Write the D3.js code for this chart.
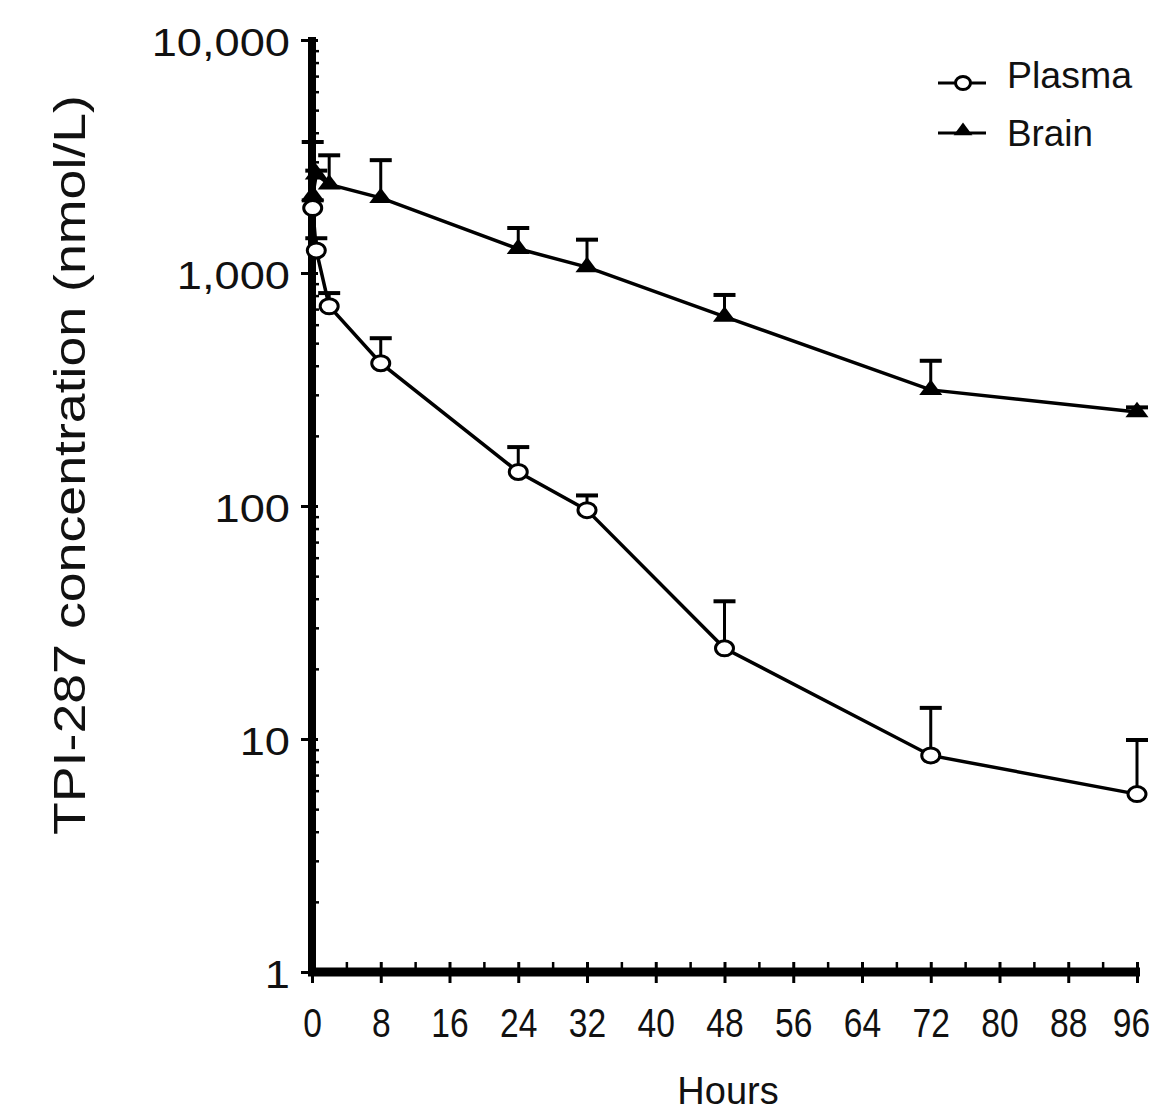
<!DOCTYPE html>
<html>
<head>
<meta charset="utf-8">
<script src="https://cdn.jsdelivr.net/npm/d3@7"></script>
<style>
  body { margin: 0; background: #fff; }
  text { font-family: "Liberation Sans", Arial, sans-serif; fill: #111; }
</style>
</head>
<body>
<svg id="chart" width="1159" height="1112"></svg>
<script>
// values (mean and upper SD)
const plasmaHours = [0.083, 0.5, 2, 8, 24, 32, 48, 72, 96];
const plasmaMean = [1900, 1250, 720, 410, 140, 96, 24.5, 8.5, 5.8];
const plasmaSD = [150, 160, 100, 115, 39, 15, 14.5, 5.1, 4.1];

const brainHours = [0.083, 0.5, 2, 8, 24, 32, 48, 72, 96];
const brainMean = [2150, 2650, 2400, 2100, 1270, 1060, 650, 315, 253];
const brainSD = [1500, 100, 800, 950, 290, 330, 155, 105, 12];

const xTicks = [0, 8, 16, 24, 32, 40, 48, 56, 64, 72, 80, 88, 96];
const yTicks = [1, 10, 100, 1000, 10000];

const svg = d3.select("#chart");

const x = d3.scaleLinear().domain([0, 96]).range([312, 1137]);
const y = d3.scaleLog().domain([1, 10000]).range([972, 40]);

// rough Arial advance widths, used to stretch labels like the scan
function textW(s, fs, k) {
  return [...s].reduce((a, c) => a + (c === ',' ? 0.278 : 0.556), 0) * fs * k;
}

const plasma = plasmaHours.map((h, i) => ({ h, v: plasmaMean[i], sd: plasmaSD[i] }));
const brain = brainHours.map((h, i) => ({ h, v: brainMean[i], sd: brainSD[i] }));

// y minor ticks
const minor = [];
for (let d = 1; d < 10000; d *= 10) for (let m = 2; m <= 9; m++) minor.push(d * m);
svg.append("g")
  .attr("transform", "translate(312,0)")
  .call(d3.axisLeft(y).tickValues(minor).tickSize(-7).tickFormat(""))
  .call(g => g.select(".domain").remove())
  .selectAll("line").attr("stroke", "#000").attr("stroke-width", 2.5);

// y axis
const yAx = svg.append("g")
  .attr("transform", "translate(312,0)")
  .call(d3.axisLeft(y).tickValues(yTicks).tickSize(11).tickSizeOuter(0).tickFormat(d3.format(",")));
yAx.select(".domain").attr("stroke", "#000").attr("stroke-width", 8)
  .attr("d", `M0,${y(10000) - 3}V${y(1) + 4}`);
yAx.selectAll(".tick line").attr("stroke", "#000").attr("stroke-width", 3).attr("x2", -11).attr("x1", 6);
yAx.selectAll(".tick text")
  .attr("x", -22).attr("dy", 15)
  .style("font-size", "39px")
  .attr("fill", "#111")
  .attr("textLength", d => textW(d3.format(",")(d), 39, 1.16))
  .attr("lengthAdjust", "spacingAndGlyphs");

// x minor ticks every 4 h
svg.append("g")
  .attr("transform", "translate(0,972)")
  .call(d3.axisBottom(x).tickValues(d3.range(4, 96, 8)).tickSize(-10).tickFormat(""))
  .call(g => g.select(".domain").remove())
  .selectAll("line").attr("stroke", "#000").attr("stroke-width", 2.5);

// x axis
const xAx = svg.append("g")
  .attr("transform", "translate(0,972)")
  .call(d3.axisBottom(x).tickValues(xTicks).tickSize(11).tickSizeOuter(0));
xAx.select(".domain").attr("stroke", "#000").attr("stroke-width", 9)
  .attr("d", `M${x(0) - 4},0H${x(96) + 3}`);
xAx.selectAll(".tick line").attr("stroke", "#000").attr("stroke-width", 3).attr("y1", -10).attr("y2", 11);
xAx.selectAll(".tick text")
  .attr("y", 65).attr("dy", null)
  .attr("x", d => d === 96 ? -6 : 0)
  .style("font-size", "41px")
  .attr("fill", "#111")
  .attr("textLength", d => textW(String(d), 41, 0.82))
  .attr("lengthAdjust", "spacingAndGlyphs");

// axis titles
svg.append("text")
  .attr("transform", "translate(85,465) rotate(-90)")
  .attr("text-anchor", "middle")
  .style("font-size", "45px")
  .attr("textLength", 740)
  .attr("lengthAdjust", "spacingAndGlyphs")
  .text("TPI-287 concentration (nmol/L)");

svg.append("text")
  .attr("x", 728).attr("y", 1104)
  .attr("text-anchor", "middle")
  .style("font-size", "38px")
  .text("Hours");

const line = d3.line().x(d => x(d.h)).y(d => y(d.v));

function drawErr(data) {
  const g = svg.append("g").attr("stroke", "#000");
  g.selectAll(".v").data(data).enter().append("line")
    .attr("x1", d => x(d.h)).attr("x2", d => x(d.h))
    .attr("y1", d => y(d.v)).attr("y2", d => y(d.v + d.sd))
    .attr("stroke-width", 3);
  g.selectAll(".c").data(data).enter().append("line")
    .attr("x1", d => x(d.h) - 11).attr("x2", d => x(d.h) + 11)
    .attr("y1", d => y(d.v + d.sd)).attr("y2", d => y(d.v + d.sd))
    .attr("stroke-width", 4);
}

drawErr(brain);
drawErr(plasma);

svg.append("path").datum(brain).attr("d", line)
  .attr("fill", "none").attr("stroke", "#000").attr("stroke-width", 3.5);
svg.append("path").datum(plasma).attr("d", line)
  .attr("fill", "none").attr("stroke", "#000").attr("stroke-width", 3.5);

const tri = d3.symbol().type(d3.symbolTriangle).size(190);

svg.append("g").selectAll("path").data(brain).enter().append("path")
  .attr("d", tri)
  .attr("transform", d => `translate(${x(d.h)},${y(d.v)}) scale(1.1,0.85)`)
  .attr("fill", "#000");

svg.append("g").selectAll("ellipse").data(plasma).enter().append("ellipse")
  .attr("cx", d => x(d.h)).attr("cy", d => y(d.v))
  .attr("rx", 9).attr("ry", 7.5)
  .attr("fill", "#fff").attr("stroke", "#000").attr("stroke-width", 3);

// legend
const legendItems = ["Plasma", "Brain"];
const lg = svg.append("g");
legendItems.forEach((name, i) => {
  const ly = 83 + i * 50;
  lg.append("line").attr("x1", 938).attr("x2", 986).attr("y1", ly).attr("y2", ly)
    .attr("stroke", "#000").attr("stroke-width", 3);
  if (i === 0) {
    lg.append("ellipse").attr("cx", 963).attr("cy", ly).attr("rx", 7.5).attr("ry", 6.5)
      .attr("fill", "#fff").attr("stroke", "#000").attr("stroke-width", 3);
  } else {
    lg.append("path").attr("d", tri)
      .attr("transform", `translate(963,${ly - 2}) scale(0.9,0.7)`).attr("fill", "#000");
  }
  lg.append("text").attr("x", 1007).attr("y", ly + 5 + i * 8)
    .style("font-size", "37px")
    .attr("textLength", i === 0 ? 125 : 86)
    .attr("lengthAdjust", "spacingAndGlyphs")
    .text(name);
});
</script>
</body>
</html>
